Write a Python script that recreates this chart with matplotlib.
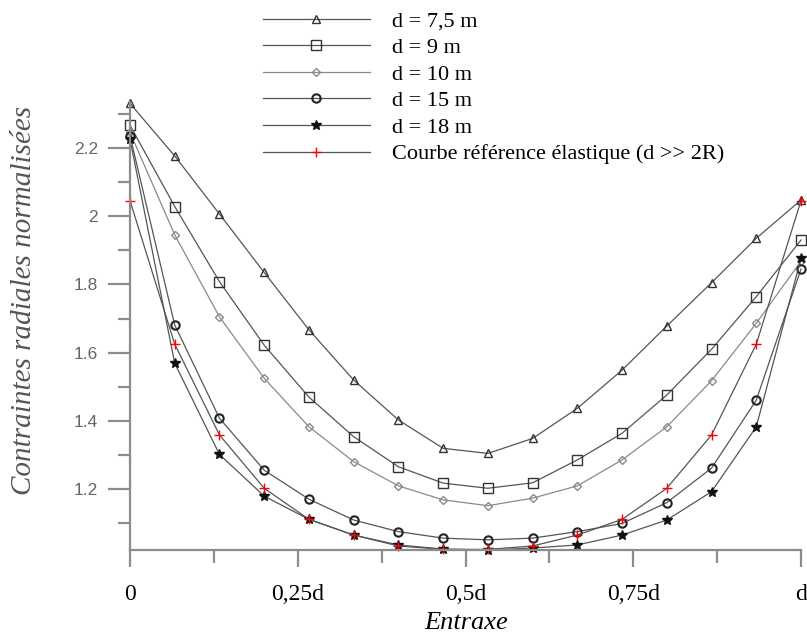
import matplotlib
matplotlib.use("Agg")
import matplotlib.pyplot as plt
import numpy as np
from matplotlib.ticker import FixedLocator

# Data: 16 points along the spacing (fractions of d)
positions = [i / 15 for i in range(16)]

tri_75 = [2.330, 2.176, 2.006, 1.835, 1.667, 1.520, 1.403, 1.320,
          1.305, 1.349, 1.437, 1.549, 1.678, 1.805, 1.935, 2.047]
sq_9 = [2.266, 2.028, 1.808, 1.622, 1.470, 1.354, 1.266, 1.218,
        1.203, 1.219, 1.286, 1.364, 1.476, 1.610, 1.764, 1.930]
dia_10 = [2.245, 1.945, 1.705, 1.525, 1.383, 1.281, 1.210, 1.169,
          1.152, 1.174, 1.210, 1.286, 1.383, 1.518, 1.686, 1.868]
circ_15 = [2.235, 1.681, 1.408, 1.256, 1.171, 1.110, 1.076, 1.057,
           1.052, 1.057, 1.076, 1.100, 1.161, 1.262, 1.461, 1.845]
star_18 = [2.225, 1.569, 1.302, 1.180, 1.112, 1.066, 1.037, 1.025,
           1.022, 1.028, 1.037, 1.066, 1.110, 1.193, 1.383, 1.876]
elastic_ref = [2.045, 1.625, 1.359, 1.203, 1.112, 1.066, 1.034, 1.024,
               1.024, 1.034, 1.066, 1.112, 1.203, 1.359, 1.625, 2.045]

labels = ["d = 7,5 m", "d = 9 m", "d = 10 m", "d = 15 m", "d = 18 m",
          "Courbe référence élastique (d >> 2R)"]
x_tick_pos = [0, 0.25, 0.5, 0.75, 1]
x_tick_labels = ["0", "0,25d", "0,5d", "0,75d", "d"]
y_tick_pos = [1.2, 1.4, 1.6, 1.8, 2.0, 2.2]
y_tick_labels = ["1.2", "1.4", "1.6", "1.8", "2", "2.2"]

serif = ["Liberation Serif", "DejaVu Serif"]
sans = ["Liberation Sans", "DejaVu Sans"]

fig = plt.figure(figsize=(8.07, 6.4), dpi=100)
ax = fig.add_axes([130 / 807, 0.1405, (801 - 130) / 807, 0.8411 - 0.1405])

line_col = "#555555"
axis_col = "#8c8c8c"
styles = [
    dict(marker="^", ms=5.5, mec="#333333", mfc="none", color=line_col),
    dict(marker="s", ms=7, mec="#333333", mfc="none", color=line_col),
    dict(marker="D", ms=4.5, mec="#8a8a8a", mfc="none", color="#8a8a8a"),
    dict(marker="o", ms=6, mec="#222222", mfc="none", mew=1.5, color=line_col),
    dict(marker="*", ms=7, mec="#111111", mfc="#111111", color=line_col),
    dict(marker="+", ms=7.5, mec="red", mew=1.0, color=line_col),
]
series = [tri_75, sq_9, dia_10, circ_15, star_18, elastic_ref]

for vals, st, lab in zip(series, styles, labels):
    ax.plot(positions, vals, lw=0.9, label=lab, clip_on=False, **st)

ax.set_xlim(0, 1)
ax.set_ylim(1.022, 2.335)

for side in ["top", "right"]:
    ax.spines[side].set_visible(False)
for side in ["left", "bottom"]:
    ax.spines[side].set_color(axis_col)
    ax.spines[side].set_linewidth(1.6)

ax.xaxis.set_major_locator(FixedLocator(x_tick_pos))
ax.xaxis.set_minor_locator(FixedLocator([0.125, 0.375, 0.625, 0.875]))
ax.set_xticklabels(x_tick_labels, family=serif, fontsize=17)
ax.yaxis.set_major_locator(FixedLocator(y_tick_pos))
ax.yaxis.set_minor_locator(FixedLocator([1.1, 1.3, 1.5, 1.7, 1.9, 2.1, 2.3]))
ax.set_yticklabels(y_tick_labels, family=sans, fontsize=12.5, color="#666666")

ax.tick_params(axis="x", which="major", direction="out", length=12.5,
               width=1.6, color=axis_col, pad=12)
ax.tick_params(axis="x", which="minor", direction="out", length=9.5,
               width=1.6, color=axis_col)
ax.tick_params(axis="y", which="major", direction="out", length=16,
               width=1.6, color=axis_col, pad=7)
ax.tick_params(axis="y", which="minor", direction="out", length=9,
               width=1.6, color=axis_col)

fig.text(466 / 807, 1 - 623 / 640, "Entraxe", family=serif, style="italic",
         fontsize=19, ha="center", va="center")
fig.text(24 / 807, 1 - 300 / 640, "Contraintes radiales normalisées",
         family=serif, style="italic", fontsize=21, color="#555555",
         rotation=90, ha="center", va="center")

fig.legend(loc="upper left", bbox_to_anchor=(263 / 807, 1 - 11 / 640),
           frameon=False, handlelength=4.8, handletextpad=1.0,
           labelspacing=0.27, borderpad=0, borderaxespad=0,
           prop={"family": serif, "size": 16})

fig.savefig("out.png", dpi=100)
